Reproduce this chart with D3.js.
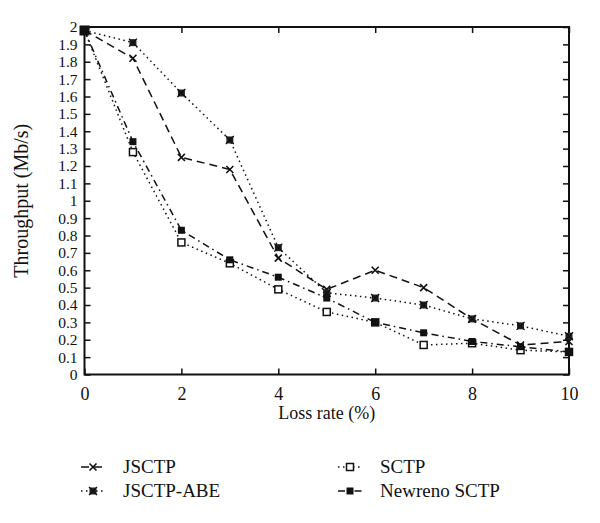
<!DOCTYPE html>
<html><head><meta charset="utf-8">
<script src="https://cdn.jsdelivr.net/npm/d3@7"></script>
<style>body{margin:0;background:#fff}svg{display:block}text{font-family:"Liberation Serif","DejaVu Serif",serif;fill:#111}</style>
</head><body><svg id="c" width="600" height="523"></svg>
<script>
const lossRates = [0,1,2,3,4,5,6,7,8,9,10];
const jsctp      = [1.98,1.82,1.25,1.18,0.67,0.49,0.60,0.50,0.32,0.17,0.19];
const jsctpAbe   = [1.98,1.91,1.62,1.35,0.73,0.47,0.44,0.40,0.32,0.28,0.22];
const sctp       = [1.98,1.28,0.76,0.64,0.49,0.36,0.30,0.17,0.18,0.14,0.13];
const newreno    = [1.98,1.34,0.83,0.66,0.56,0.44,0.30,0.24,0.19,0.16,0.13];
const seriesNames = ["JSCTP","JSCTP-ABE","SCTP","Newreno SCTP"];
const xTicks = [0,2,4,6,8,10];
const yTicks = d3.range(0,21).map(i=>i/10);

const series = [
  {name:seriesNames[0], values:jsctp, dash:"8,5", marker:"cross"},
  {name:seriesNames[1], values:jsctpAbe, dash:"1.5,3.5", marker:"boxx"},
  {name:seriesNames[2], values:sctp, dash:"1.5,3.5", marker:"open"},
  {name:seriesNames[3], values:newreno, dash:"7,4,1.5,4", marker:"filled"}
];

const L=84.5, R=569, T=27, B=374.5;
const svg = d3.select("#c");
const x = d3.scaleLinear().domain([0,10]).range([L,R]);
const y = d3.scaleLinear().domain([0,2]).range([B,T]);

function fmt(v){ return d3.format("")(+v.toFixed(1)); }

const gL = svg.append("g").attr("transform",`translate(${L},0)`)
  .call(d3.axisLeft(y).tickValues(yTicks).tickSize(-6).tickPadding(7).tickFormat(fmt));
const gR = svg.append("g").attr("transform",`translate(${R},0)`)
  .call(d3.axisRight(y).tickValues(yTicks).tickSize(-6).tickFormat(""));
const gB = svg.append("g").attr("transform",`translate(0,${B})`)
  .call(d3.axisBottom(x).tickValues(xTicks).tickSize(-6).tickPadding(13));
const gT = svg.append("g").attr("transform",`translate(0,${T})`)
  .call(d3.axisTop(x).tickValues(xTicks).tickSize(-6).tickFormat(""));
[gL,gR,gB,gT].forEach(g=>{
  g.select(".domain").remove();
  g.selectAll(".tick line").attr("stroke","#111").attr("stroke-width",1.5);
  g.selectAll("text").style("font-family",'"Liberation Serif",serif').attr("fill","#111");
});
gL.selectAll("text").attr("font-size",15.5);
gB.selectAll("text").attr("font-size",18);
svg.append("rect").attr("x",L).attr("y",T).attr("width",R-L).attr("height",B-T)
  .attr("fill","none").attr("stroke","#111").attr("stroke-width",2);

const line = d3.line().x((d,i)=>x(lossRates[i])).y(d=>y(d));
function drawMarker(g, type, cx, cy){
  const s=3.5;
  if(type==="cross"){
    g.append("path").attr("d",`M${cx-s},${cy-s}L${cx+s},${cy+s}M${cx-s},${cy+s}L${cx+s},${cy-s}`)
      .attr("stroke","#111").attr("stroke-width",1.6).attr("fill","none");
  } else if(type==="boxx"){
    g.append("rect").attr("x",cx-s).attr("y",cy-s).attr("width",2*s).attr("height",2*s).attr("fill","#222");
    g.append("path").attr("d",`M${cx-s-0.5},${cy-s-0.5}L${cx+s+0.5},${cy+s+0.5}M${cx-s-0.5},${cy+s+0.5}L${cx+s+0.5},${cy-s-0.5}`)
      .attr("stroke","#111").attr("stroke-width",1.3);
  } else if(type==="open"){
    g.append("rect").attr("x",cx-s).attr("y",cy-s).attr("width",2*s).attr("height",2*s)
      .attr("fill","#fff").attr("stroke","#111").attr("stroke-width",1.5);
  } else {
    g.append("rect").attr("x",cx-s).attr("y",cy-s).attr("width",2*s).attr("height",2*s).attr("fill","#111");
  }
}
series.forEach(s=>{
  svg.append("path").datum(s.values).attr("d",line).attr("fill","none")
    .attr("stroke","#111").attr("stroke-width",1.5).attr("stroke-dasharray",s.dash);
});
series.forEach(s=>{
  const g=svg.append("g");
  s.values.forEach((v,i)=>{ if(i>0) drawMarker(g,s.marker,x(lossRates[i]),y(v)); });
});
svg.append("rect").attr("x",x(0)-5).attr("y",y(1.98)-5).attr("width",10).attr("height",10).attr("fill","#111");

svg.append("text").attr("x",(L+R)/2).attr("y",419).attr("text-anchor","middle").attr("font-size",18).text("Loss rate (%)");
svg.append("text").attr("transform",`translate(28,${(T+B)/2}) rotate(-90)`).attr("text-anchor","middle").attr("font-size",20).text("Throughput (Mb/s)");

const legPos = [[81,467],[81,491],[338,467],[338,491]];
series.forEach((s,k)=>{
  const [lx,ly]=legPos[k];
  const g=svg.append("g");
  g.append("line").attr("x1",lx).attr("x2",lx+24).attr("y1",ly).attr("y2",ly)
    .attr("stroke","#111").attr("stroke-width",1.5).attr("stroke-dasharray",s.dash);
  drawMarker(g,s.marker,lx+12,ly);
  g.append("text").attr("x",lx+42).attr("y",ly+6).attr("font-size",19).text(s.name);
});
</script></body></html>
